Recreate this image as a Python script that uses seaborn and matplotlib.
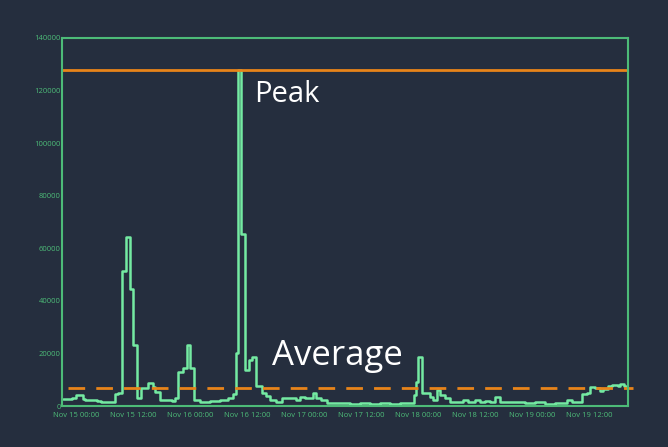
import pandas as pd
import matplotlib.pyplot as plt
import seaborn as sns

# hours since Nov 15 00:00, and the metric value at each step
hours = [-2.7, -0.8, 0.0, 1.5, 1.9, 4.4, 5.3, 8.2, 8.8, 9.7, 10.5, 11.4, 12.0,
         12.8, 13.7, 15.2, 16.2, 16.6, 17.7, 20.2, 20.8, 21.5, 22.5, 23.4, 24.0,
         24.8, 26.1, 28.2, 30.3, 32.0, 33.1, 33.7, 34.1, 34.7, 35.6, 36.4, 37.1,
         37.9, 39.2, 40.0, 40.8, 42.1, 43.4, 46.3, 47.2, 48.2, 49.9, 50.5, 51.6,
         52.8, 55.6, 57.7, 59.8, 61.9, 64.0, 66.1, 68.2, 71.2, 71.6, 72.0, 72.8,
         74.5, 75.2, 76.0, 76.6, 77.7, 78.7, 81.5, 82.5, 84.0, 85.1, 86.1, 87.2,
         88.2, 89.3, 92.4, 94.5, 96.6, 98.7, 100.8, 103.4, 104.4, 106.5, 107.6,
         108.2, 109.3, 110.3, 110.9, 112.0, 112.8, 114.1, 114.5, 115.4, 115.8]
values = [2700, 3000, 4200, 2700, 2300, 1900, 1700, 4600, 5000, 51400, 64400, 44600, 23200,
          3000, 6800, 8800, 7200, 5300, 2300, 1900, 3000, 13000, 14500, 23200, 14500,
          2300, 1500, 1900, 2300, 3000, 4600, 20200, 128000, 65500, 13700, 17500, 18700,
          7600, 5000, 3800, 2300, 1500, 3000, 2300, 3400, 3000, 5000, 3000, 2300,
          1100, 1100, 760, 1100, 760, 1100, 950, 1100, 4200, 9100, 18700, 5000,
          3400, 2300, 6100, 4200, 3000, 1500, 2300, 1500, 2300, 1500, 1900, 1500,
          3400, 1500, 1500, 1100, 1500, 760, 1100, 2300, 1500, 4600, 5000,
          7200, 6900, 5700, 6500, 7600, 8000, 7600, 8400, 7600, 7600]

tick_hours = [0, 12, 24, 36, 48, 60, 72, 84, 96, 108]
tick_labels = ["Nov 15 00:00", "Nov 15 12:00", "Nov 16 00:00", "Nov 16 12:00",
               "Nov 17 00:00", "Nov 17 12:00", "Nov 18 00:00", "Nov 18 12:00",
               "Nov 19 00:00", "Nov 19 12:00"]
y_ticks = [0, 20000, 40000, 60000, 80000, 100000, 120000, 140000]

peak_value = 128000
average_value = 6900

bg = "#252e3e"
frame_green = "#4dbb78"
line_green = "#74eaa2"
orange = "#e8841a"

sns.set_theme(style="dark", rc={"axes.facecolor": bg, "figure.facecolor": bg})
plt.rcParams['font.family'] = ['Open Sans', 'DejaVu Sans']

df = pd.DataFrame({"hour": hours, "value": values})

fig = plt.figure(figsize=(6.68, 4.47), dpi=100)
ax = fig.add_axes([0.0928, 0.0917, 0.8473, 0.8233])

sns.lineplot(data=df, x="hour", y="value", ax=ax, color=line_green, linewidth=1.8,
             drawstyle="steps-post", estimator=None, sort=False)

ax.axhline(peak_value, color=orange, linewidth=2)
ax.axhline(average_value, xmin=0.01, xmax=1.008, color=orange, linewidth=2,
           dashes=(6, 4), clip_on=False)

ax.text(37.4, 118500, "Peak", color="white", fontsize=21, va="center", ha="left")
ax.text(41.3, 18900, "Average", color="white", fontsize=25, va="center", ha="left")

ax.set_xlim(-2.95, 116.2)
ax.set_ylim(0, 140000)
ax.set_xticks(tick_hours)
ax.set_xticklabels(tick_labels)
ax.set_yticks(y_ticks)
ax.set_yticklabels([str(v) for v in y_ticks])
ax.tick_params(axis="both", length=0, labelsize=5.5, labelcolor=frame_green)
ax.tick_params(axis="y", pad=1)
ax.tick_params(axis="x", pad=4)
ax.set_xlabel("")
ax.set_ylabel("")
ax.grid(False)
for s in ax.spines.values():
    s.set_visible(True)
    s.set_color(frame_green)
    s.set_linewidth(1.5)

fig.savefig("out.png", dpi=100, facecolor=bg)
